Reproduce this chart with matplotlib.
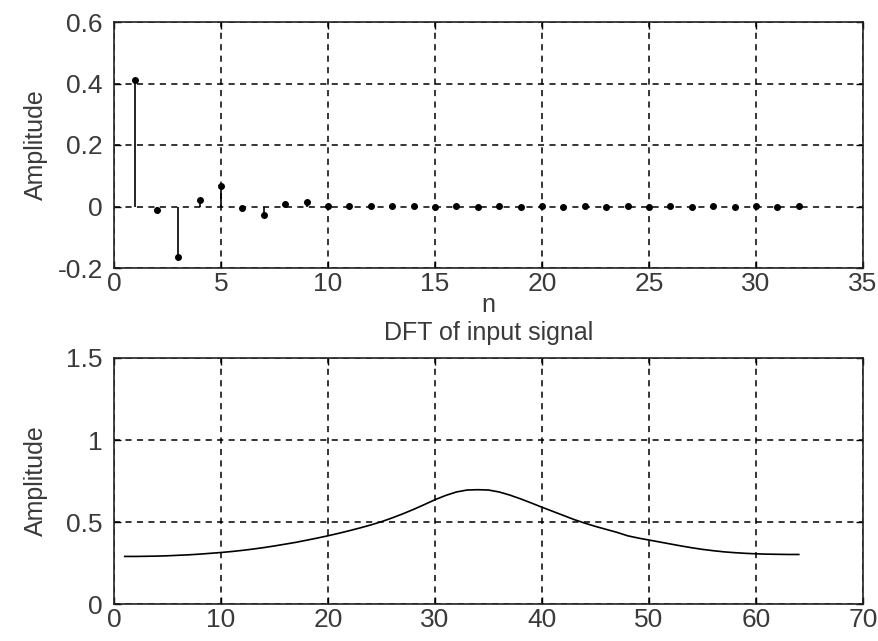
import matplotlib
matplotlib.use("Agg")
import matplotlib.pyplot as plt
import numpy as np

# ---- data ----
n_top = list(range(1, 33))
amp_top = [0.413, -0.013, -0.163, 0.022, 0.068, -0.005, -0.027, 0.008, 0.015, 0.001,
           0.002, 0.001, 0.001, 0.001, 0.000, 0.001, 0.000, 0.001, 0.000, 0.001,
           0.000, 0.001, 0.000, 0.001, 0.000, 0.001, 0.000, 0.001, 0.000, 0.001,
           0.000, 0.001]

k_bot = list(range(1, 65))
amp_bot = [0.290, 0.290, 0.291, 0.292, 0.294, 0.297, 0.300, 0.304, 0.309, 0.314,
           0.320, 0.327, 0.335, 0.344, 0.354, 0.365, 0.376, 0.389, 0.402, 0.416,
           0.431, 0.447, 0.464, 0.482, 0.502, 0.525, 0.550, 0.577, 0.606, 0.636,
           0.662, 0.683, 0.695, 0.697, 0.695, 0.683, 0.664, 0.641, 0.616, 0.590,
           0.565, 0.540, 0.515, 0.493, 0.473, 0.455, 0.437, 0.416, 0.402, 0.390,
           0.378, 0.366, 0.354, 0.343, 0.333, 0.325, 0.318, 0.313, 0.309, 0.306,
           0.304, 0.303, 0.302, 0.302]

top_xticks = [0, 5, 10, 15, 20, 25, 30, 35]
top_yticks = [-0.2, 0, 0.2, 0.4, 0.6]
top_yticklabels = ["-0.2", "0", "0.2", "0.4", "0.6"]
bot_xticks = [0, 10, 20, 30, 40, 50, 60, 70]
bot_yticks = [0, 0.5, 1, 1.5]
bot_yticklabels = ["0", "0.5", "1", "1.5"]

plt.rcParams['font.family'] = ['Liberation Sans', 'DejaVu Sans']
TXT = '#3a3a3a'

fig = plt.figure(figsize=(8.79, 6.41), dpi=100)
ax1 = fig.add_axes([114/879, 1-268/641, (863-114)/879, (268-22)/641])
ax2 = fig.add_axes([114/879, 1-604/641, (863-114)/879, (604-358)/641])

def style(ax):
    ax.grid(True, color='black', linestyle=(0, (4, 3.5)), linewidth=1.1)
    ax.set_axisbelow(True)
    for s in ax.spines.values():
        s.set_linewidth(1.2)
        s.set_color('#222222')
    ax.tick_params(direction='in', length=5, width=1.0, top=True, right=True,
                   labelsize=19, labelcolor=TXT)
    ax.tick_params(axis='y', pad=8)
    ax.tick_params(axis='x', pad=3)

# top stem
ml, sl, bl = ax1.stem(n_top, amp_top, linefmt='k-', markerfmt='k.', basefmt=' ')
sl.set_linewidth(1.2)
ml.set_markersize(8)
ax1.set_xlim(0, 35)
ax1.set_ylim(-0.2, 0.6)
ax1.set_xticks(top_xticks)
ax1.set_yticks(top_yticks)
ax1.set_yticklabels(top_yticklabels)
style(ax1)
ax1.set_xlabel('n', fontsize=18, color=TXT, labelpad=-2)
ax1.set_ylabel('Amplitude', fontsize=18, color=TXT)
ax1.yaxis.set_label_coords(-0.088, 0.5)

# bottom line
ax2.plot(k_bot, amp_bot, color='black', linewidth=1.2)
ax2.set_xlim(0, 70)
ax2.set_ylim(0, 1.5)
ax2.set_xticks(bot_xticks)
ax2.set_yticks(bot_yticks)
ax2.set_yticklabels(bot_yticklabels)
style(ax2)
ax2.set_title('DFT of input signal', fontsize=18, color=TXT, pad=13)
ax2.set_ylabel('Amplitude', fontsize=18, color=TXT)
ax2.yaxis.set_label_coords(-0.088, 0.5)

fig.savefig('out.png', dpi=100)
